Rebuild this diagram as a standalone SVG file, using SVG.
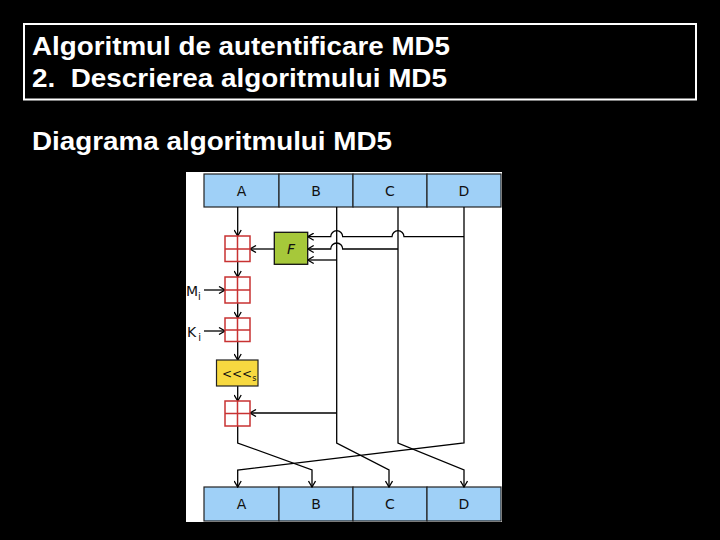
<svg xmlns="http://www.w3.org/2000/svg" width="720" height="540" viewBox="0 0 720 540">
<style>
.title{font-family:"Liberation Sans",Arial,sans-serif;font-weight:bold;font-size:25px;fill:#fff}
.reg{fill:#9fd0f7;stroke:#222;stroke-width:1.2}
.lbl{font-family:"DejaVu Sans",Verdana,sans-serif;font-size:14px;fill:#111;text-anchor:middle}
.ln{fill:none;stroke:#000;stroke-width:1.3}
.add{fill:#fff;stroke:#c83232;stroke-width:1.5}
</style>
<defs>
<marker id="ah" viewBox="0 0 8 8" refX="7" refY="4" markerWidth="8" markerHeight="8" markerUnits="userSpaceOnUse" orient="auto">
<path d="M1,0.5 L7,4 L1,7.5" fill="none" stroke="#000" stroke-width="1.3"/>
</marker>
</defs>
<rect width="720" height="540" fill="#000"/>
<g id="title">
<rect x="24" y="24" width="672" height="75.5" fill="none" stroke="#fff" stroke-width="2"/>
<text class="title" x="32" y="54.5" textLength="418" lengthAdjust="spacingAndGlyphs">Algoritmul de autentificare MD5</text>
<text class="title" x="32" y="86.5" textLength="415" lengthAdjust="spacingAndGlyphs" xml:space="preserve">2.  Descrierea algoritmului MD5</text>
</g>
<g id="subtitle">
<text class="title" x="32" y="149.5" textLength="360" lengthAdjust="spacingAndGlyphs">Diagrama algoritmului MD5</text>
</g>
<rect id="panel" x="186" y="172" width="316" height="350" fill="#fff"/>
<g id="top-registers">
<rect class="reg" x="204" y="174" width="75" height="33"/>
<rect class="reg" x="279" y="174" width="74" height="33"/>
<rect class="reg" x="353" y="174" width="74" height="33"/>
<rect class="reg" x="427" y="174" width="74" height="33"/>
<text class="lbl" x="241.5" y="195.5">A</text>
<text class="lbl" x="316" y="195.5">B</text>
<text class="lbl" x="390" y="195.5">C</text>
<text class="lbl" x="464" y="195.5">D</text>
</g>
<g id="bottom-registers">
<rect class="reg" x="204" y="487" width="75" height="34"/>
<rect class="reg" x="279" y="487" width="74" height="34"/>
<rect class="reg" x="353" y="487" width="74" height="34"/>
<rect class="reg" x="427" y="487" width="74" height="34"/>
<text class="lbl" x="241.5" y="509">A</text>
<text class="lbl" x="316" y="509">B</text>
<text class="lbl" x="390" y="509">C</text>
<text class="lbl" x="464" y="509">D</text>
</g>
<g id="connectors">
<path class="ln" d="M237.7,207 V236" marker-end="url(#ah)"/>
<path class="ln" d="M237.7,261.5 V277" marker-end="url(#ah)"/>
<path class="ln" d="M237.7,303 V318" marker-end="url(#ah)"/>
<path class="ln" d="M237.7,341.5 V360" marker-end="url(#ah)"/>
<path class="ln" d="M237.7,386 V401" marker-end="url(#ah)"/>
<path class="ln" d="M237.7,426 V443 L312,470 V487" marker-end="url(#ah)"/>
<path class="ln" d="M336.7,207 V443 L389,470 V487" marker-end="url(#ah)"/>
<path class="ln" d="M398,207 V443 L464,470 V487" marker-end="url(#ah)"/>
<path class="ln" d="M464,207 V443 L237.7,470 V487" marker-end="url(#ah)"/>
<path class="ln" d="M464,236.7 H404 A6,6 0 0 0 392,236.7 H342.7 A6,6 0 0 0 330.7,236.7 H307.7" marker-end="url(#ah)"/>
<path class="ln" d="M398,249 H342.7 A6,6 0 0 0 330.7,249 H307.7" stroke-width="1.8" marker-end="url(#ah)"/>
<path class="ln" d="M336.7,260 H307.7" marker-end="url(#ah)"/>
<path class="ln" d="M274.3,249 H250" stroke-width="2" marker-end="url(#ah)"/>
<path class="ln" d="M336.7,413 H250" stroke-width="1.8" marker-end="url(#ah)"/>
<path class="ln" d="M204,290 H225" marker-end="url(#ah)"/>
<path class="ln" d="M204,331 H225" marker-end="url(#ah)"/>
</g>
<g id="add1"><rect class="add" x="225" y="236" width="25" height="25.5"/><path class="add" d="M237.5,236 V261.5 M225,249 H250"/></g>
<g id="add2"><rect class="add" x="225" y="277" width="25" height="26"/><path class="add" d="M237.5,277 V303 M225,290 H250"/></g>
<g id="add3"><rect class="add" x="225" y="318" width="25" height="23.5"/><path class="add" d="M237.5,318 V341.5 M225,330 H250"/></g>
<g id="add4"><rect class="add" x="225" y="401" width="25" height="25"/><path class="add" d="M237.5,401 V426 M225,413.5 H250"/></g>
<g id="F">
<rect x="274.3" y="232.3" width="33.4" height="32" fill="#a6c83a" stroke="#111" stroke-width="1.3"/>
<text x="291" y="253.5" font-family="DejaVu Sans,Verdana,sans-serif" font-size="14" font-style="italic" text-anchor="middle" fill="#111">F</text>
</g>
<g id="rotate">
<rect x="216.5" y="360" width="41.5" height="26" fill="#f7d940" stroke="#222" stroke-width="1.2"/>
<text x="222" y="378" font-family="DejaVu Sans,Verdana,sans-serif" font-size="12" fill="#111">&lt;&lt;&lt;<tspan font-size="8" dy="3">s</tspan></text>
</g>
<g id="Mi">
<text x="186" y="296" font-family="DejaVu Sans,Verdana,sans-serif" font-size="14" fill="#111">M<tspan font-size="10" dy="4">i</tspan></text>
</g>
<g id="Ki">
<text x="187" y="337" font-family="DejaVu Sans,Verdana,sans-serif" font-size="14" fill="#111">K<tspan font-size="10" dy="4" dx="2">i</tspan></text>
</g>
</svg>
